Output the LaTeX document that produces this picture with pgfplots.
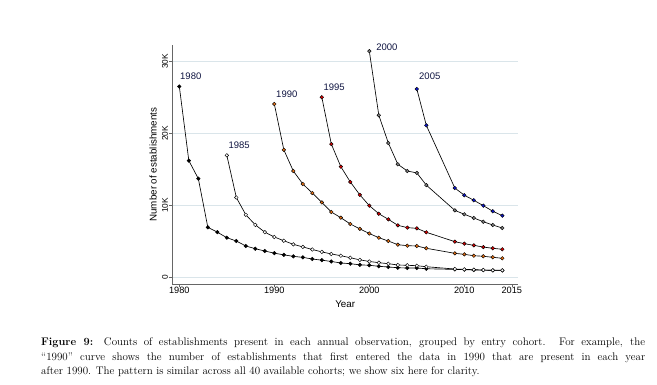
\documentclass[border=0pt]{standalone}
\usepackage{pgfplots}
\pgfplotsset{compat=1.18}
\usepackage{fontspec}
\newfontfamily\arial{Liberation Sans}
\definecolor{gridc}{RGB}{218,229,234}
\definecolor{labc}{RGB}{15,20,65}
\definecolor{cA}{RGB}{0,0,0}
\definecolor{cB}{RGB}{255,255,255}
\definecolor{cC}{RGB}{232,112,20}
\definecolor{cD}{RGB}{220,0,0}
\definecolor{cE}{RGB}{128,128,128}
\definecolor{cF}{RGB}{10,20,210}

\pgfplotstableread{
year val
1980 26500
1981 16200
1982 13700
1983 6940
1984 6270
1985 5500
1986 5040
1987 4350
1988 3970
1989 3650
1990 3350
1991 3120
1992 2910
1993 2770
1994 2540
1995 2380
1996 2200
1997 1990
1998 1890
1999 1730
2000 1670
2001 1530
2002 1430
2003 1330
2004 1290
2005 1290
2006 1190
2009 1100
2010 1060
2011 1010
2012 1000
2013 970
2014 960
}\cohortA

\pgfplotstableread{
year val
1985 16940
1986 11080
1987 8680
1988 7280
1989 6270
1990 5600
1991 5080
1992 4580
1993 4220
1994 3860
1995 3530
1996 3240
1997 3000
1998 2720
1999 2420
2000 2200
2001 2030
2002 1890
2003 1710
2004 1670
2005 1610
2006 1470
2009 1150
2010 1100
2011 1060
2012 1010
2013 970
2014 970
}\cohortB

\pgfplotstableread{
year val
1990 24070
1991 17700
1992 14760
1993 12960
1994 11700
1995 10400
1996 9070
1997 8280
1998 7400
1999 6730
2000 6080
2001 5500
2002 5040
2003 4530
2004 4390
2005 4350
2006 4030
2009 3330
2010 3190
2011 3000
2012 2920
2013 2780
2014 2640
}\cohortC

\pgfplotstableread{
year val
1995 25000
1996 18500
1997 15360
1998 13240
1999 11450
2000 9950
2001 8830
2002 8050
2003 7220
2004 6900
2005 6800
2006 6250
2009 4950
2010 4670
2011 4440
2012 4200
2013 4030
2014 3890
}\cohortD

\pgfplotstableread{
year val
2000 31400
2001 22500
2002 18650
2003 15700
2004 14760
2005 14500
2006 12800
2009 9300
2010 8750
2011 8240
2012 7720
2013 7260
2014 6850
}\cohortE

\pgfplotstableread{
year val
2005 26150
2006 21100
2009 12400
2010 11400
2011 10700
2012 9950
2013 9170
2014 8560
}\cohortF

\begin{document}
\begin{tikzpicture}[x=1pt,y=1pt]
\path[use as bounding box] (0,0) rectangle (657,385);
\begin{axis}[
  at={(172.3pt,100.7pt)}, anchor=south west,
  scale only axis, width=345.7pt, height=239.3pt,
  xmin=1979.26, xmax=2015.65, ymin=-970, ymax=32260,
  clip=false,
  scaled ticks=false,
  axis lines*=left,
  axis line style={-, draw=black!60, line width=0.8pt},
  xtick={1980,1990,2000,2010,2015},
  xticklabels={1980,1990,2000,2010,2015},
  ytick={0,10000,20000,30000},
  yticklabels={0,10K,20K,30K},
  tick align=outside, major tick length=3pt,
  tick style={draw=black!60, line width=0.6pt},
  ymajorgrids, grid style={draw=gridc, line width=0.6pt},
  tick label style={inner sep=0pt},
  yticklabel shift=1.2pt,
  yticklabel style={rotate=90, anchor=south, font=\fontsize{8.3}{10}\selectfont\arial},
  xticklabel style={anchor=north, font=\fontsize{9.2}{11}\selectfont\arial},
  xlabel={Year}, ylabel={Number of establishments},
  every axis x label/.style={at={(axis description cs:0.5,0)}, anchor=north, yshift=-16pt, inner sep=0pt, font=\fontsize{9.8}{11}\selectfont\arial},
  every axis y label/.style={at={(axis description cs:-0.0443,0.5)}, rotate=90, anchor=south, inner sep=0pt, font=\fontsize{9.8}{11}\selectfont\arial},
  every axis plot/.append style={draw=black, line width=0.65pt, mark=*, mark size=1.8pt},
]
\addplot[mark options={draw=black, line width=0.45pt, fill=cA}] table[x=year,y=val] {\cohortA};
\addplot[mark options={draw=black, line width=0.45pt, fill=cB}] table[x=year,y=val] {\cohortB};
\addplot[mark options={draw=black, line width=0.45pt, fill=cC}] table[x=year,y=val] {\cohortC};
\addplot[mark options={draw=black, line width=0.45pt, fill=cD}] table[x=year,y=val] {\cohortD};
\addplot[mark options={draw=black, line width=0.45pt, fill=cE}] table[x=year,y=val] {\cohortE};
\addplot[mark options={draw=black, line width=0.45pt, fill=cF}] table[x=year,y=val] {\cohortF};
\begin{scope}[every node/.style={anchor=west, inner sep=0pt, text=labc, font=\fontsize{9.5}{11}\selectfont\arial}]
\node at (axis cs:1980.07,27890) {1980};
\node at (axis cs:1985.16,18330) {1985};
\node at (axis cs:1990.18,25390) {1990};
\node at (axis cs:1995.16,26360) {1995};
\node at (axis cs:2000.71,31920) {2000};
\node at (axis cs:2005.23,27920) {2005};
\end{scope}
\end{axis}
\node[anchor=base west, inner sep=0pt] at (41,39) {\parbox[t]{604pt}{\fontsize{11}{14.5}\selectfont\textbf{Figure 9:} Counts of establishments present in each annual observation, grouped by entry cohort. For example, the\linebreak ``1990'' curve shows the number of establishments that first entered the data in 1990 that are present in each year\linebreak after 1990. The pattern is similar across all 40 available cohorts; we show six here for clarity.}};
\end{tikzpicture}
\end{document}
